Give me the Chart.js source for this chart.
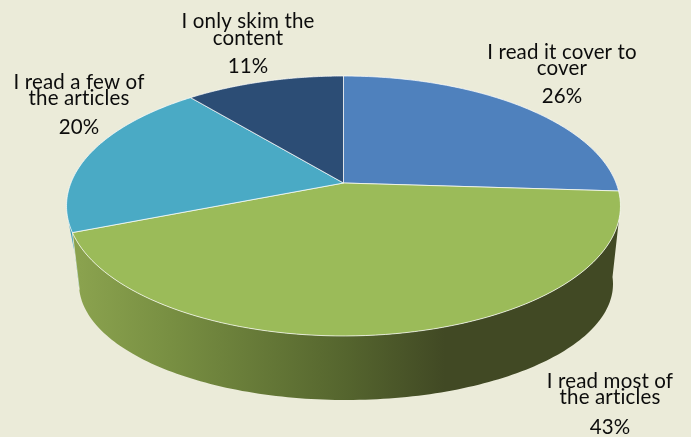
<!DOCTYPE html>
<html>
<head>
<meta charset="utf-8">
<title>Reading habits</title>
<script src="https://cdn.jsdelivr.net/npm/chart.js@4"></script>
<style>
    html, body { margin: 0; padding: 0; background: #ebebd9; }
    canvas { display: block; }
</style>
</head>
<body>
<canvas id="pie" width="691" height="437"></canvas>
<script>
var categories = [
    ['I read it cover to', 'cover'],
    ['I read most of', 'the articles'],
    ['I read a few of', 'the articles'],
    ['I only skim the', 'content']
];
var shares = [26, 43, 20, 11];
var sliceColors = ['#4f81bd', '#9bbb59', '#4aaac5', '#2c4d75'];

// horizontal shading of the rim, one list of [x, colour] per slice
var rimShades = [
    [[0, '#3c6496']],
    [[80, '#8aa24e'], [170, '#788f42'], [345, '#55652e'], [445, '#414924'], [620, '#414924']],
    [[68, '#3a9ab8'], [82, '#3a9ab8']],
    [[0, '#223c5c']]
];

// label anchors: centre x, then the baseline of each text row
var labelSpots = [
    { x: 562, rows: [59, 75, 103] },
    { x: 610, rows: [388, 404, 434] },
    { x: 79, rows: [89, 105, 134] },
    { x: 248, rows: [28, 45, 73] }
];

// the disc is seen in perspective, so the hub sits above the middle of its outline
var face = { x0: 343.5, y0: 183, a: 272.6, b: 125.9, k: -0.1769 };
var faceEllipse = { x: 344, y: 206, rx: 277, ry: 130 };
var bottomEllipse = { x: 346, y: 284, rx: 267, ry: 116 };
var rimStretch = 1.115;
var rimFrom = 6 * Math.PI / 180;
var rimTo = 174 * Math.PI / 180;

function project(angle) {
    var u = Math.cos(angle);
    var v = Math.sin(angle);
    var w = 1 + face.k * v;
    return { x: face.x0 + face.a * u / w, y: face.y0 + face.b * v / w };
}

function rimPoint(p) {
    var phi = Math.atan2((p.y - faceEllipse.y) / faceEllipse.ry, (p.x - faceEllipse.x) / faceEllipse.rx);
    if (phi < rimFrom || phi > rimTo) {
        return null;
    }
    var low = Math.PI / 2 + (phi - Math.PI / 2) * rimStretch;
    return {
        x: bottomEllipse.x + bottomEllipse.rx * Math.cos(low),
        y: bottomEllipse.y + bottomEllipse.ry * Math.sin(low)
    };
}

// slices go through the projection instead of a plain circular arc
Chart.ArcElement.prototype.draw = function(ctx) {
    var opts = this.options;
    var steps = 90;
    ctx.save();
    ctx.beginPath();
    ctx.moveTo(face.x0, face.y0);
    for (var i = 0; i <= steps; i++) {
        var p = project(this.startAngle + (this.endAngle - this.startAngle) * i / steps);
        ctx.lineTo(p.x, p.y);
    }
    ctx.closePath();
    ctx.fillStyle = opts.backgroundColor;
    ctx.fill();
    ctx.strokeStyle = opts.borderColor;
    ctx.lineWidth = opts.borderWidth;
    ctx.lineJoin = 'round';
    ctx.stroke();
    ctx.restore();
};

var rimPlugin = {
    id: 'rim',
    beforeDatasetsDraw: function(chart) {
        var ctx = chart.ctx;
        var arcs = chart.getDatasetMeta(0).data;
        // back to front: the left sliver goes under the large front slice
        [2, 1].forEach(function(index) {
            var arc = arcs[index];
            var upper = [];
            var lower = [];
            for (var i = 0; i <= 160; i++) {
                var p = project(arc.startAngle + (arc.endAngle - arc.startAngle) * i / 160);
                var q = rimPoint(p);
                if (q) {
                    upper.push(p);
                    lower.push(q);
                }
            }
            var xs = rimShades[index];
            var fill = ctx.createLinearGradient(xs[0][0], 0, xs[xs.length - 1][0], 0);
            xs.forEach(function(stop) {
                fill.addColorStop((stop[0] - xs[0][0]) / (xs[xs.length - 1][0] - xs[0][0]), stop[1]);
            });
            ctx.save();
            ctx.beginPath();
            upper.forEach(function(p, i) {
                if (i === 0) {
                    ctx.moveTo(p.x, p.y);
                } else {
                    ctx.lineTo(p.x, p.y);
                }
            });
            var seamEnd = lower[lower.length - 1];
            lower.reverse().forEach(function(p) {
                ctx.lineTo(p.x, p.y);
            });
            ctx.closePath();
            ctx.fillStyle = fill;
            ctx.fill();
            // pale seam where the front slice meets its neighbour
            if (index === 1) {
                ctx.beginPath();
                ctx.moveTo(upper[upper.length - 1].x, upper[upper.length - 1].y);
                ctx.lineTo(seamEnd.x, seamEnd.y);
                ctx.strokeStyle = 'rgba(255,255,255,0.55)';
                ctx.lineWidth = 1;
                ctx.stroke();
            }
            ctx.restore();
        });
    },
    afterDatasetsDraw: function(chart) {
        var ctx = chart.ctx;
        ctx.save();
        ctx.fillStyle = '#0c0c0c';
        ctx.font = '20.5px Lato';
        ctx.letterSpacing = '0.15px';
        ctx.textAlign = 'center';
        categories.forEach(function(lines, i) {
            var spot = labelSpots[i];
            ctx.fillText(lines[0], spot.x, spot.rows[0]);
            ctx.fillText(lines[1], spot.x, spot.rows[1]);
            ctx.fillText(shares[i] + '%', spot.x, spot.rows[2]);
        });
        ctx.restore();
    }
};

new Chart(document.getElementById('pie').getContext('2d'), {
    type: 'pie',
    data: {
        labels: categories.map(function(lines) { return lines.join(' '); }),
        datasets: [{
            data: shares,
            backgroundColor: sliceColors,
            borderColor: 'rgba(255,255,255,0.7)',
            borderWidth: 1
        }]
    },
    options: {
        responsive: false,
        animation: false,
        plugins: {
            legend: { display: false },
            tooltip: { enabled: false }
        }
    },
    plugins: [rimPlugin]
});
</script>
</body>
</html>
